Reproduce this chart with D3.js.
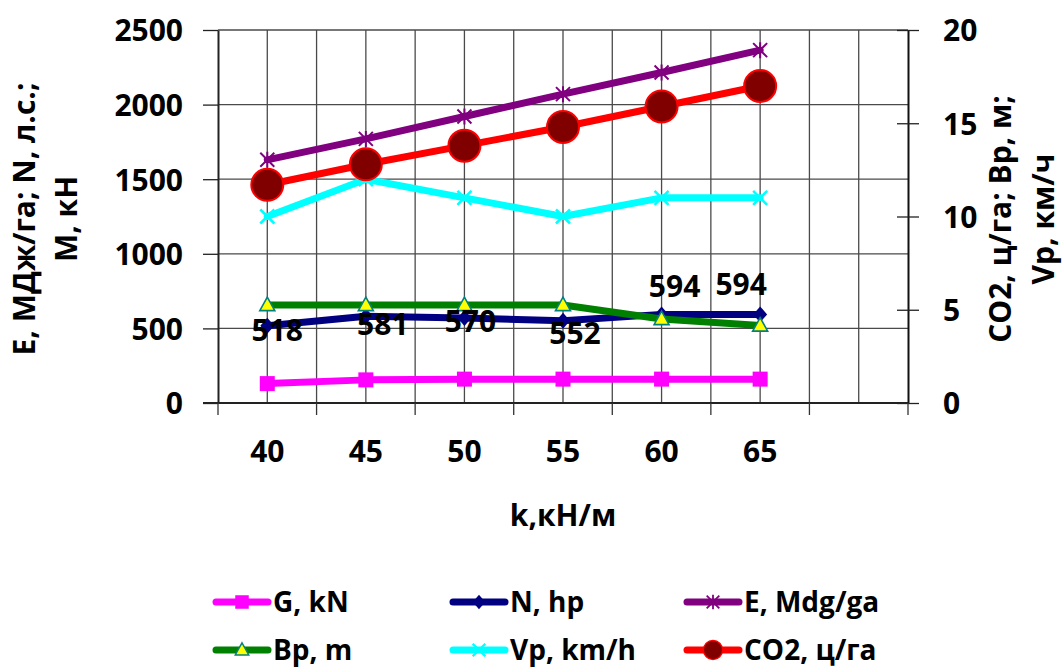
<!DOCTYPE html>
<html>
<head>
<meta charset="utf-8">
<script src="https://cdn.jsdelivr.net/npm/d3@7"></script>
<style>
  body { margin: 0; background: #fff; }
  svg { display: block; }
  text { font-family: "Open Sans", sans-serif; font-weight: 700; fill: #000; }
</style>
</head>
<body>
<svg id="chart" width="1062" height="668"></svg>
<script>
// k, кН/м on the category axis
const categories = ["40", "45", "50", "55", "60", "65"];
// primary axis series
const gValues   = [130, 155, 160, 160, 160, 160];
const nValues   = [518, 581, 570, 552, 594, 594];
const eValues   = [1630, 1770, 1920, 2070, 2215, 2365];
// secondary axis series
const bpValues  = [5.25, 5.25, 5.25, 5.25, 4.5, 4.15];
const vpValues  = [10, 12, 11, 10, 11, 11];
const co2Values = [11.7, 12.8, 13.8, 14.8, 15.9, 17.0];
// axis ticks
const leftTicks  = [0, 500, 1000, 1500, 2000, 2500];
const rightTicks = [0, 5, 10, 15, 20];
// hand-placed offsets of the N value labels (px from the point)
const labelNudge = [[10, 4], [17, 8], [6, 3], [12, 13], [13, -28], [-19, -30]];

const series = [
  { name: "G, kN",     values: gValues,   axis: "L", color: "#FF00FF", marker: "square" },
  { name: "N, hp",     values: nValues,   axis: "L", color: "#000080", marker: "diamond" },
  { name: "E, Mdg/ga", values: eValues,   axis: "L", color: "#800080", marker: "star" },
  { name: "Bp, m",     values: bpValues,  axis: "R", color: "#008000", marker: "triangle" },
  { name: "Vp, km/h",  values: vpValues,  axis: "R", color: "#00FFFF", marker: "x" },
  { name: "CO2, ц/га", values: co2Values, axis: "R", color: "#FF0000", marker: "circle" }
];

const svg = d3.select("#chart");
const plot = { left: 218, right: 908, top: 30, bottom: 403 };

// 6 categories plus one empty slot at the end of the axis
const slots = d3.range(categories.length + 1);
const x = d3.scaleBand().domain(slots).range([plot.left, plot.right]).paddingInner(0).paddingOuter(0);
const cx = i => x(i) + x.bandwidth() / 2;
const yL = d3.scaleLinear().domain([0, 2500]).range([plot.bottom, plot.top]);
const yR = d3.scaleLinear().domain([0, 20]).range([plot.bottom, plot.top]);

// grid
const grid = svg.append("g").attr("stroke", "#4a4a4a").attr("stroke-width", 1.3);
const vx = [];
slots.forEach(i => { vx.push(x(i)); vx.push(cx(i)); });
grid.selectAll("line.v").data(vx.filter(v => v > plot.left + 1)).enter().append("line")
  .attr("x1", d => d).attr("x2", d => d).attr("y1", plot.top).attr("y2", plot.bottom);
grid.selectAll("line.h").data(leftTicks.filter(t => t > 0)).enter().append("line")
  .attr("x1", plot.left).attr("x2", plot.right).attr("y1", d => yL(d)).attr("y2", d => yL(d));

// left axis
const axL = svg.append("g").attr("transform", `translate(${plot.left},0)`)
  .call(d3.axisLeft(yL).tickValues(leftTicks).tickFormat(d3.format("d"))
    .tickSize(15).tickSizeOuter(0).tickPadding(20));
axL.select(".domain").attr("stroke", "#222").attr("stroke-width", 2);
axL.selectAll(".tick line").attr("stroke", "#222").attr("stroke-width", 1.3);
axL.selectAll(".tick text").attr("font-size", 30).attr("font-family", null).attr("dy", "0.36em");

// right axis, ticks cross the axis line
const axR = svg.append("g").attr("transform", `translate(${plot.right},0)`)
  .call(d3.axisRight(yR).tickValues(rightTicks).tickFormat(d3.format("d"))
    .tickSize(11).tickSizeOuter(0).tickPadding(24));
axR.select(".domain").attr("stroke", "#111").attr("stroke-width", 2);
axR.selectAll(".tick line").attr("x1", -11).attr("stroke", "#222").attr("stroke-width", 1.3);
axR.selectAll(".tick text").attr("font-size", 30).attr("font-family", null).attr("dy", "0.36em");

// bottom axis: ticks at slot boundaries, labels at slot centres
const axB = svg.append("g").attr("transform", `translate(0,${plot.bottom})`);
axB.append("line").attr("x1", 203).attr("x2", plot.right).attr("stroke", "#222").attr("stroke-width", 1.8);
const bounds = slots.map(i => x(i)).concat([plot.right]);
axB.selectAll("line.t").data(bounds).enter().append("line")
  .attr("x1", d => d).attr("x2", d => d).attr("y1", 0).attr("y2", 12)
  .attr("stroke", "#333").attr("stroke-width", 1.3);
axB.selectAll("text").data(categories).enter().append("text")
  .attr("x", (d, i) => cx(i)).attr("y", 59).attr("text-anchor", "middle")
  .attr("font-size", 30).text(d => d);

// axis titles
svg.append("text").attr("x", (plot.left + plot.right) / 2).attr("y", 526)
  .attr("text-anchor", "middle").attr("font-size", 30).text("k,кН/м");

const tL = svg.append("text").attr("transform", "translate(0,219) rotate(-90)")
  .attr("text-anchor", "middle").attr("font-size", 30);
tL.append("tspan").attr("x", 0).attr("y", 35).text("Е, МДж/га; N, л.с.;");
tL.append("tspan").attr("x", 0).attr("y", 77).text("М, кН");

const tR = svg.append("text").attr("transform", "translate(0,219) rotate(-90)")
  .attr("text-anchor", "middle").attr("font-size", 30);
tR.append("tspan").attr("x", 0).attr("y", 1011).text("CO2, ц/га; Bp, м;");
tR.append("tspan").attr("x", 0).attr("y", 1054).text("Vp, км/ч");

// markers; k scales the marker down for the legend
function marker(g, type, color, px, py, k = 1) {
  const m = g.append("g").attr("transform", `translate(${px},${py}) scale(${k})`);
  if (type === "square") {
    m.append("rect").attr("x", -7.5).attr("y", -7.5).attr("width", 15).attr("height", 15).attr("fill", color);
  } else if (type === "diamond") {
    m.append("path").attr("d", "M0,-8L7,0L0,8L-7,0Z").attr("fill", color);
  } else if (type === "star") {
    m.append("path").attr("d", "M-7,-7L7,7M-7,7L7,-7M0,-8L0,8")
      .attr("stroke", color).attr("stroke-width", 2).attr("fill", "none");
  } else if (type === "triangle") {
    m.append("path").attr("d", "M0,-8L7.5,5.5L-7.5,5.5Z")
      .attr("fill", "#FFFF00").attr("stroke", "#008080").attr("stroke-width", 1.6);
  } else if (type === "x") {
    m.append("path").attr("d", "M-7,-7L7,7M-7,7L7,-7")
      .attr("stroke", color).attr("stroke-width", 2.5).attr("fill", "none");
  } else if (type === "circle") {
    m.append("circle").attr("r", 16).attr("fill", "#800000").attr("stroke", color).attr("stroke-width", 2);
  }
}

// series lines + markers
const marks = svg.append("g");
series.forEach(s => {
  const y = s.axis === "L" ? yL : yR;
  const line = d3.line().x((d, i) => cx(i)).y(d => y(d));
  const g = marks.append("g");
  g.append("path").datum(s.values).attr("d", line)
    .attr("fill", "none").attr("stroke", s.color).attr("stroke-width", 7)
    .attr("stroke-linejoin", "round").attr("stroke-linecap", "round");
  s.values.forEach((v, i) => marker(g, s.marker, s.color, cx(i), y(v)));
});

// N value labels
svg.append("g").selectAll("text").data(nValues).enter().append("text")
  .attr("x", (d, i) => cx(i) + labelNudge[i][0])
  .attr("y", (d, i) => yL(d) + labelNudge[i][1])
  .attr("dy", "0.36em").attr("text-anchor", "middle").attr("font-size", 30)
  .text(d => d);

// legend: 3 columns x 2 rows
const legCols = [213, 450, 684], legRows = [602, 650], sampleLen = 58;
const legend = svg.append("g");
series.forEach((s, k) => {
  const lx = legCols[k % 3], ly = legRows[Math.floor(k / 3)];
  const g = legend.append("g");
  g.append("line").attr("x1", lx + 3).attr("x2", lx + sampleLen - 3).attr("y1", ly).attr("y2", ly)
    .attr("stroke", s.color).attr("stroke-width", 7).attr("stroke-linecap", "round");
  marker(g, s.marker, s.color, lx + sampleLen / 2, ly, s.marker === "circle" ? 0.6 : 0.9);
  g.append("text").attr("x", lx + sampleLen + 2).attr("y", ly).attr("dy", "0.34em")
    .attr("font-size", 28).text(s.name);
});
</script>
</body>
</html>
